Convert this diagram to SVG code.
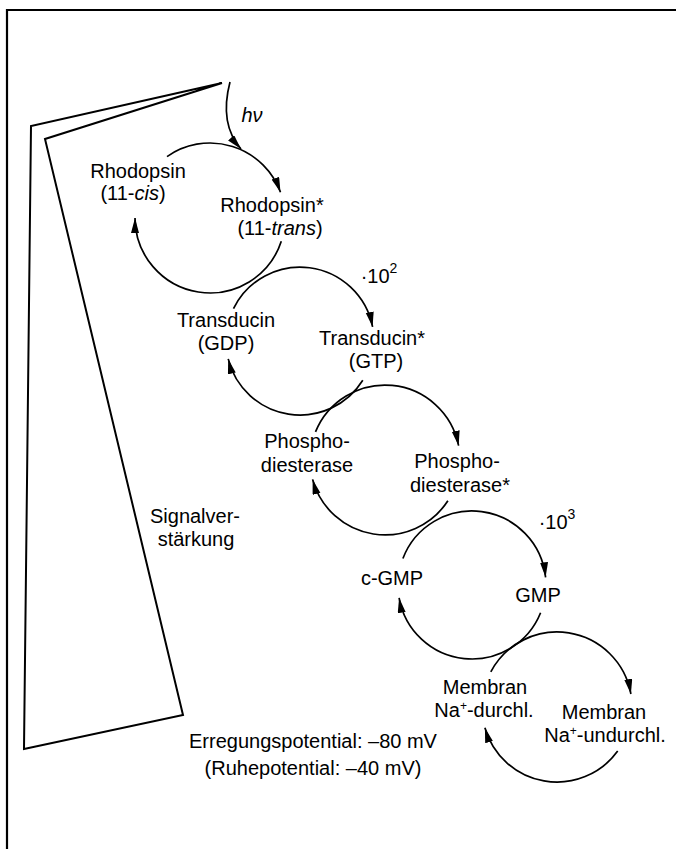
<svg xmlns="http://www.w3.org/2000/svg" width="676" height="849" viewBox="0 0 676 849">
<defs>
<marker id="ah" markerUnits="userSpaceOnUse" markerWidth="16" markerHeight="9" refX="15" refY="4" orient="auto">
<path d="M0,0 L15,4 L0,8 z" fill="#000"/>
</marker>
<style>
text{font-family:"Liberation Sans",Arial,sans-serif;font-size:20px;fill:#000;text-anchor:middle}
.arc{fill:none;stroke:#000;stroke-width:1.7;marker-end:url(#ah)}
.frame{fill:none;stroke:#000;stroke-width:2.2}
.sup{font-size:14px}
.sup2{font-size:12px}
</style>
</defs>
<rect width="676" height="849" fill="#fff"/>
<g id="frame">
<path class="frame" d="M7,849 L7,10 L676,10"/>
</g>
<g id="wedge">
<path d="M222,83 L31,126 L24,749 L183,715 L45,139 Z" fill="none" stroke="#000" stroke-width="2" stroke-linejoin="miter"/>
<text x="195" y="523">Signalver-</text>
<text x="196" y="546">stärkung</text>
</g>
<g id="connectors">
<path class="arc" d="M230,82 Q219,124 241,149"/>
<path class="arc" d="M167,156.6 A75,75 0 0 1 280.5,192.3"/>
<path class="arc" d="M281.3,241.2 A75,75 0 0 1 135,218"/>
<path class="arc" d="M233.5,308.6 A74,74 0 0 1 372.6,326.9"/>
<path class="arc" d="M362.8,380.2 A74,74 0 0 1 228.2,358.9"/>
<path class="arc" d="M315.5,431.9 A75,75 0 0 1 458.6,445.7"/>
<path class="arc" d="M447.9,500.8 A75,75 0 0 1 312.6,479.4"/>
<path class="arc" d="M402.9,558.5 A74,74 0 0 1 545.6,577.3"/>
<path class="arc" d="M540.6,612.7 A74,74 0 0 1 399.1,597.8"/>
<path class="arc" d="M490.8,671.8 A75,75 0 0 1 630.9,694"/>
<path class="arc" d="M617.7,751.1 A75,75 0 0 1 484.9,727.7"/>
</g>
<g id="hv"><text x="252" y="122" font-style="italic">hν</text></g>
<g id="rhodopsin">
<text x="138" y="178">Rhodopsin</text>
<text x="133" y="200">(11-<tspan font-style="italic">cis</tspan>)</text>
</g>
<g id="rhodopsin-star">
<text x="272" y="212">Rhodopsin*</text>
<text x="280" y="235">(11-<tspan font-style="italic">trans</tspan>)</text>
</g>
<g id="factor1"><text x="379" y="283">·10<tspan class="sup" dy="-10">2</tspan></text></g>
<g id="transducin">
<text x="226" y="327">Transducin</text>
<text x="226" y="350">(GDP)</text>
</g>
<g id="transducin-star">
<text x="372" y="345">Transducin*</text>
<text x="376" y="368">(GTP)</text>
</g>
<g id="pde">
<text x="307" y="448">Phospho-</text>
<text x="307" y="472">diesterase</text>
</g>
<g id="pde-star">
<text x="457" y="468">Phospho-</text>
<text x="460" y="492">diesterase*</text>
</g>
<g id="factor2"><text x="557" y="529">·10<tspan class="sup" dy="-10">3</tspan></text></g>
<g id="cgmp"><text x="392" y="585">c-GMP</text></g>
<g id="gmp"><text x="538" y="602">GMP</text></g>
<g id="membran-open">
<text x="485" y="694">Membran</text>
<text x="484" y="717">Na<tspan class="sup2" dy="-7">+</tspan><tspan dy="7">-durchl.</tspan></text>
</g>
<g id="membran-closed">
<text x="604" y="719">Membran</text>
<text x="605" y="742">Na<tspan class="sup2" dy="-7">+</tspan><tspan dy="7">-undurchl.</tspan></text>
</g>
<g id="potential">
<text x="313" y="748">Erregungspotential: –80 mV</text>
<text x="313" y="775">(Ruhepotential: –40 mV)</text>
</g>
</svg>
